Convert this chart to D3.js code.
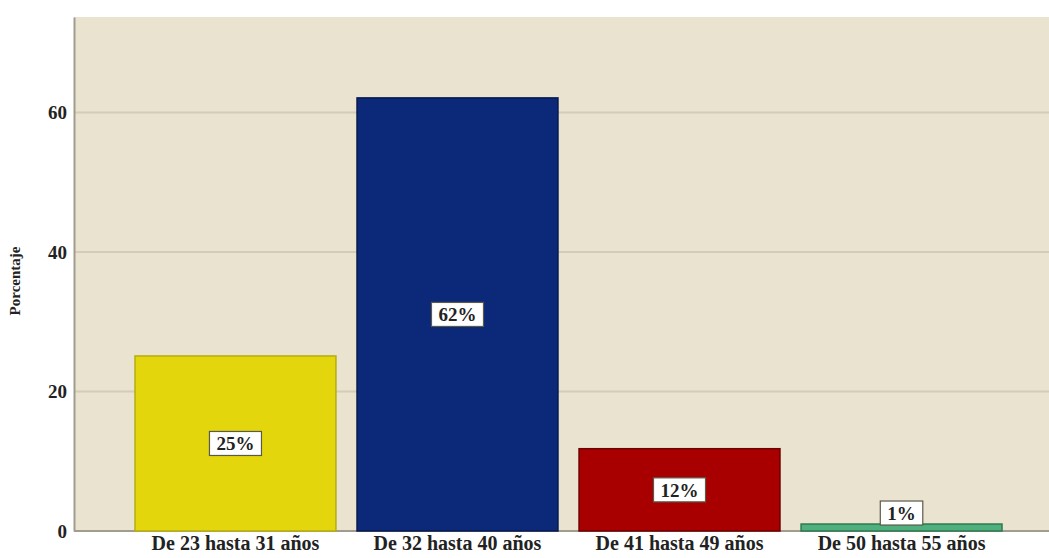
<!DOCTYPE html>
<html>
<head>
<meta charset="utf-8">
<script src="https://cdn.jsdelivr.net/npm/d3@7"></script>
<style>
  body { margin: 0; background: #fff; }
  text { font-family: "Liberation Serif", "Times New Roman", serif; font-weight: bold; fill: #222; }
</style>
</head>
<body>
<div id="chart"></div>
<script>
var categories = ["De 23 hasta 31 años", "De 32 hasta 40 años", "De 41 hasta 49 años", "De 50 hasta 55 años"];
var values = [25.1, 62.1, 11.8, 1.0];
var labels = ["25%", "62%", "12%", "1%"];
var colors = ["#e3d60c", "#0c2878", "#a80000", "#4fb07e"];
var strokes = ["#b8ad10", "#061a50", "#6e0000", "#2e7a52"];
var yTicks = [0, 20, 40, 60];

var width = 1049, height = 558;
var plot = {left: 74, right: 1049, top: 17, bottom: 531};

var svg = d3.select("#chart").append("svg")
    .attr("width", width)
    .attr("height", height);

var x = d3.scaleBand()
    .domain(categories)
    .range([135, 1002])
    .paddingInner(0.095)
    .paddingOuter(0);

var y = d3.scaleLinear()
    .domain([0, 73.7])
    .range([plot.bottom, plot.top]);

// plot background
svg.append("rect")
    .attr("x", plot.left)
    .attr("y", plot.top)
    .attr("width", plot.right - plot.left)
    .attr("height", plot.bottom - plot.top)
    .attr("fill", "#eae3cf");

// gridlines
svg.append("g").selectAll("line")
    .data(yTicks.filter(function(d) { return d > 0; }))
  .enter().append("line")
    .attr("x1", plot.left)
    .attr("x2", plot.right)
    .attr("y1", function(d) { return y(d); })
    .attr("y2", function(d) { return y(d); })
    .attr("stroke", "#d3ccb6")
    .attr("stroke-width", 2);

// y axis
var yAxis = svg.append("g")
    .attr("transform", "translate(" + plot.left + ",0)")
    .call(d3.axisLeft(y).tickValues(yTicks).tickSize(0).tickPadding(7));
yAxis.select(".domain").attr("stroke", "#a09c90").attr("stroke-width", 2);
yAxis.selectAll("text")
    .style("font-family", "'Liberation Serif', serif")
    .style("font-weight", "bold")
    .style("font-size", "19px")
    .attr("fill", "#222");

// x axis
var xAxis = svg.append("g")
    .attr("transform", "translate(0," + plot.bottom + ")")
    .call(d3.axisBottom(x).tickSize(0).tickPadding(5));
xAxis.select(".domain").attr("stroke", "#a09c90").attr("stroke-width", 2)
    .attr("d", "M" + plot.left + ",0H" + plot.right);
xAxis.selectAll("text")
    .style("font-family", "'Liberation Serif', serif")
    .style("font-weight", "bold")
    .style("font-size", "20px")
    .attr("fill", "#222");

// axis title
svg.append("text")
    .attr("transform", "translate(20,281) rotate(-90)")
    .attr("text-anchor", "middle")
    .style("font-size", "15px")
    .text("Porcentaje");

// bars
svg.append("g").selectAll("rect")
    .data(values)
  .enter().append("rect")
    .attr("x", function(d, i) { return x(categories[i]); })
    .attr("y", function(d) { return y(d); })
    .attr("width", x.bandwidth())
    .attr("height", function(d) { return y(0) - y(d); })
    .attr("fill", function(d, i) { return colors[i]; })
    .attr("stroke", function(d, i) { return strokes[i]; })
    .attr("stroke-width", 1.5);

// value labels
var lab = svg.append("g").selectAll("g")
    .data(values)
  .enter().append("g")
    .attr("transform", function(d, i) {
      var cx = x(categories[i]) + x.bandwidth() / 2;
      var cy = (y(d) + y(0)) / 2;
      if (y(0) - y(d) < 30) cy = y(d) - 11;
      return "translate(" + cx + "," + cy + ")";
    });

lab.append("text")
    .attr("text-anchor", "middle")
    .attr("dy", "0.35em")
    .style("font-size", "19px")
    .text(function(d, i) { return labels[i]; });

lab.insert("rect", "text")
    .each(function() {
      var t = this.parentNode.querySelector("text").getBBox();
      d3.select(this)
        .attr("x", t.x - 7)
        .attr("y", -12)
        .attr("width", t.width + 14)
        .attr("height", 24);
    })
    .attr("fill", "#fff")
    .attr("stroke", "#5a5a4a")
    .attr("stroke-width", 1.2);
</script>
</body>
</html>
